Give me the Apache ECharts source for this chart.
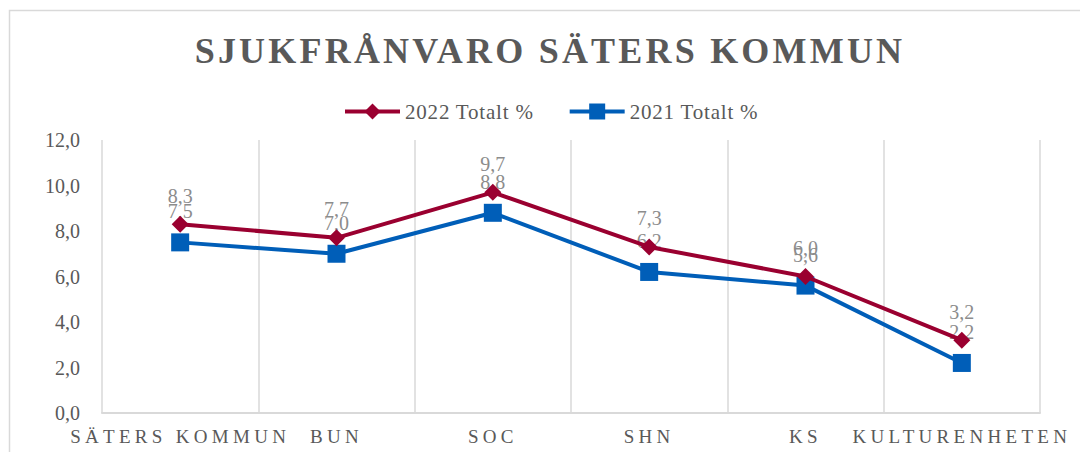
<!DOCTYPE html>
<html>
<head>
<meta charset="utf-8">
<script src="https://cdn.jsdelivr.net/npm/echarts@6/dist/echarts.min.js"></script>
<style>
html,body{margin:0;padding:0;background:#fff;}
#chart{width:1080px;height:452px;}
</style>
</head>
<body>
<div id="chart"></div>
<script>
const categories = ['SÄTERS KOMMUN', 'BUN', 'SOC', 'SHN', 'KS', 'KULTURENHETEN'];
const values2022 = [8.3, 7.7, 9.7, 7.3, 6.0, 3.2];
const values2021 = [7.5, 7.0, 8.8, 6.2, 5.6, 2.2];
const seriesNames = ['2022 Totalt %', '2021 Totalt %'];
const titleText = 'SJUKFRÅNVARO SÄTERS KOMMUN';

const FONT = 'Liberation Serif';
const fmt = v => Number(v).toFixed(1).replace('.', ',');

const chart = echarts.init(document.getElementById('chart'), null, {renderer: 'svg'});
chart.setOption({
  animation: false,
  backgroundColor: '#ffffff',
  textStyle: {fontFamily: FONT},
  title: {
    text: titleText,
    left: 545,
    top: 28,
    textAlign: 'center',
    textStyle: {fontFamily: FONT, fontSize: 36, fontWeight: 'bold', color: '#595959'}
  },
  legend: {
    left: 338,
    top: 96,
    itemWidth: 55,
    itemHeight: 20,
    itemGap: 44,
    lineStyle: {width: 4},
    textStyle: {fontFamily: FONT, fontSize: 21, color: '#595959'},
    data: seriesNames
  },
  graphic: [{
    type: 'rect',
    shape: {x: 9.5, y: 10.5, width: 1200, height: 600},
    style: {fill: 'none', stroke: '#d9d9d9', lineWidth: 1.5},
    silent: true,
    z: -10
  }],
  grid: {left: 102, right: 40, top: 140, bottom: 39},
  xAxis: {
    type: 'category',
    data: categories,
    boundaryGap: true,
    axisLine: {show: true, lineStyle: {color: '#d9d9d9', width: 2}},
    axisTick: {show: false},
    splitLine: {show: true, lineStyle: {color: '#d9d9d9', width: 1.5}},
    axisLabel: {fontFamily: FONT, fontSize: 19, color: '#595959', margin: 14, interval: 0}
  },
  yAxis: {
    type: 'value',
    min: 0, max: 12, interval: 2,
    axisLine: {show: false},
    axisTick: {show: false},
    splitLine: {show: false},
    axisLabel: {fontFamily: FONT, fontSize: 20, color: '#595959', margin: 22, formatter: fmt}
  },
  series: [{
    name: seriesNames[0],
    type: 'line',
    data: values2022,
    symbol: 'diamond',
    symbolSize: 17,
    lineStyle: {color: '#9a0030', width: 4},
    itemStyle: {color: '#9a0030'},
    label: {show: true, position: 'top', distance: 10, fontFamily: FONT, fontSize: 20, color: '#8c8c8c', formatter: p => fmt(p.value)},
    z: 3
  }, {
    name: seriesNames[1],
    type: 'line',
    data: values2021,
    symbol: 'rect',
    symbolSize: 18,
    lineStyle: {color: '#005eb8', width: 4},
    itemStyle: {color: '#005eb8'},
    label: {show: true, position: 'top', distance: 12, fontFamily: FONT, fontSize: 20, color: '#8c8c8c', formatter: p => fmt(p.value)},
    z: 2
  }]
});

function applySpacing() {
  const svg = document.querySelector('#chart svg');
  if (!svg) return;
  svg.querySelectorAll('text').forEach(t => {
    const s = t.textContent;
    if (s === titleText) t.style.letterSpacing = '3.2px';
    else if (categories.indexOf(s) >= 0) t.style.letterSpacing = '4.3px';
    else if (seriesNames.indexOf(s) >= 0) t.style.letterSpacing = '0.8px';
  });
}
chart.on('finished', applySpacing);
setTimeout(applySpacing, 50);
</script>
</body>
</html>
